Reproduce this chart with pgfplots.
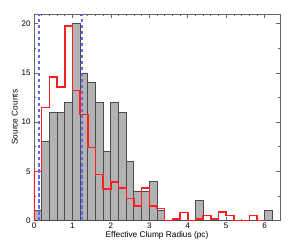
\documentclass[border=0pt]{standalone}
\usepackage{pgfplots}
\pgfplotsset{compat=1.18}
\usepackage{fontspec}
\setmainfont{Liberation Sans}
\definecolor{idlblue}{rgb}{0.4,0.4,1}
\definecolor{idlred}{rgb}{1,0.12,0.12}
\begin{document}
\begin{tikzpicture}
\begin{axis}[
  scale only axis,
  width=246pt, height=206.5pt,
  xmin=0, xmax=6.4, ymin=0, ymax=21,
  xtick={0,1,2,3,4,5,6},
  ytick={0,5,10,15,20},
  minor x tick num=4,
  minor y tick num=1,
  tick align=inside,
  major tick length=4pt,
  minor tick length=2pt,
  axis line style={black!60, line width=0.9pt},
  every tick/.style={black!60, line width=0.7pt},
  /pgf/number format/assume math mode=true,
  ticklabel style={font=\fontsize{8}{9}\selectfont},
  label style={font=\fontsize{8.3}{9}\selectfont},
  xlabel={Effective Clump Radius (pc)},
  ylabel={Source Counts},
  xlabel style={yshift=4pt},
  ylabel style={yshift=-3pt},
  xticklabel style={yshift=1pt},
  clip=true,
]
% gray histogram (bin width 0.2)
\addplot[ybar interval, fill=black!30, draw=black!70, line width=0.9pt] coordinates {
(0.0,1) (0.2,8) (0.4,11) (0.6,11) (0.8,12) (1.0,20) (1.2,15) (1.4,14) (1.6,12) (1.8,7)
(2.0,12) (2.2,11) (2.4,6) (2.6,3) (2.8,3) (3.0,4) (3.2,1) (3.4,0) (3.6,0) (3.8,0)
(4.0,0) (4.2,2) (4.4,0) (4.6,0) (4.8,0) (5.0,0) (5.2,0) (5.4,0) (5.6,0) (5.8,0)
(6.0,1) (6.2,1)
};
% red scaled histogram
\addplot[const plot, draw=idlred, line width=1.5pt, mark=none] coordinates {
(0.0,0) (0.0,5.0) (0.2,11.5) (0.4,14.6) (0.6,13.6) (0.8,19.8) (1.0,13.2) (1.2,10.8)
(1.4,7.4) (1.6,4.7) (1.8,3.2) (2.0,3.9) (2.2,3.3) (2.4,2.25) (2.6,1.5) (2.8,3.3)
(3.0,1.5) (3.2,1.2) (3.4,0) (3.6,0.17) (3.8,0.8) (4.0,0) (4.2,0.17) (4.4,0.5)
(4.6,0.17) (4.8,0.84) (5.0,0.5) (5.2,0) (5.4,0) (5.6,0.5) (5.8,0) (6.0,0)
};
% blue dashed lines
\addplot[draw=idlblue, dash pattern=on 3.5pt off 2.5pt, line width=1.5pt, mark=none] coordinates {(0.13,0) (0.13,21)};
\addplot[draw=idlblue, dash pattern=on 3.5pt off 2.5pt, line width=1.5pt, mark=none] coordinates {(1.25,0) (1.25,21)};
\end{axis}
\path (current axis.south west) ++(-34pt,-25pt) coordinate (bl);
\path (current axis.north east) ++(13pt,14pt) coordinate (tr);
\path (bl) rectangle (tr);
\end{tikzpicture}
\end{document}
